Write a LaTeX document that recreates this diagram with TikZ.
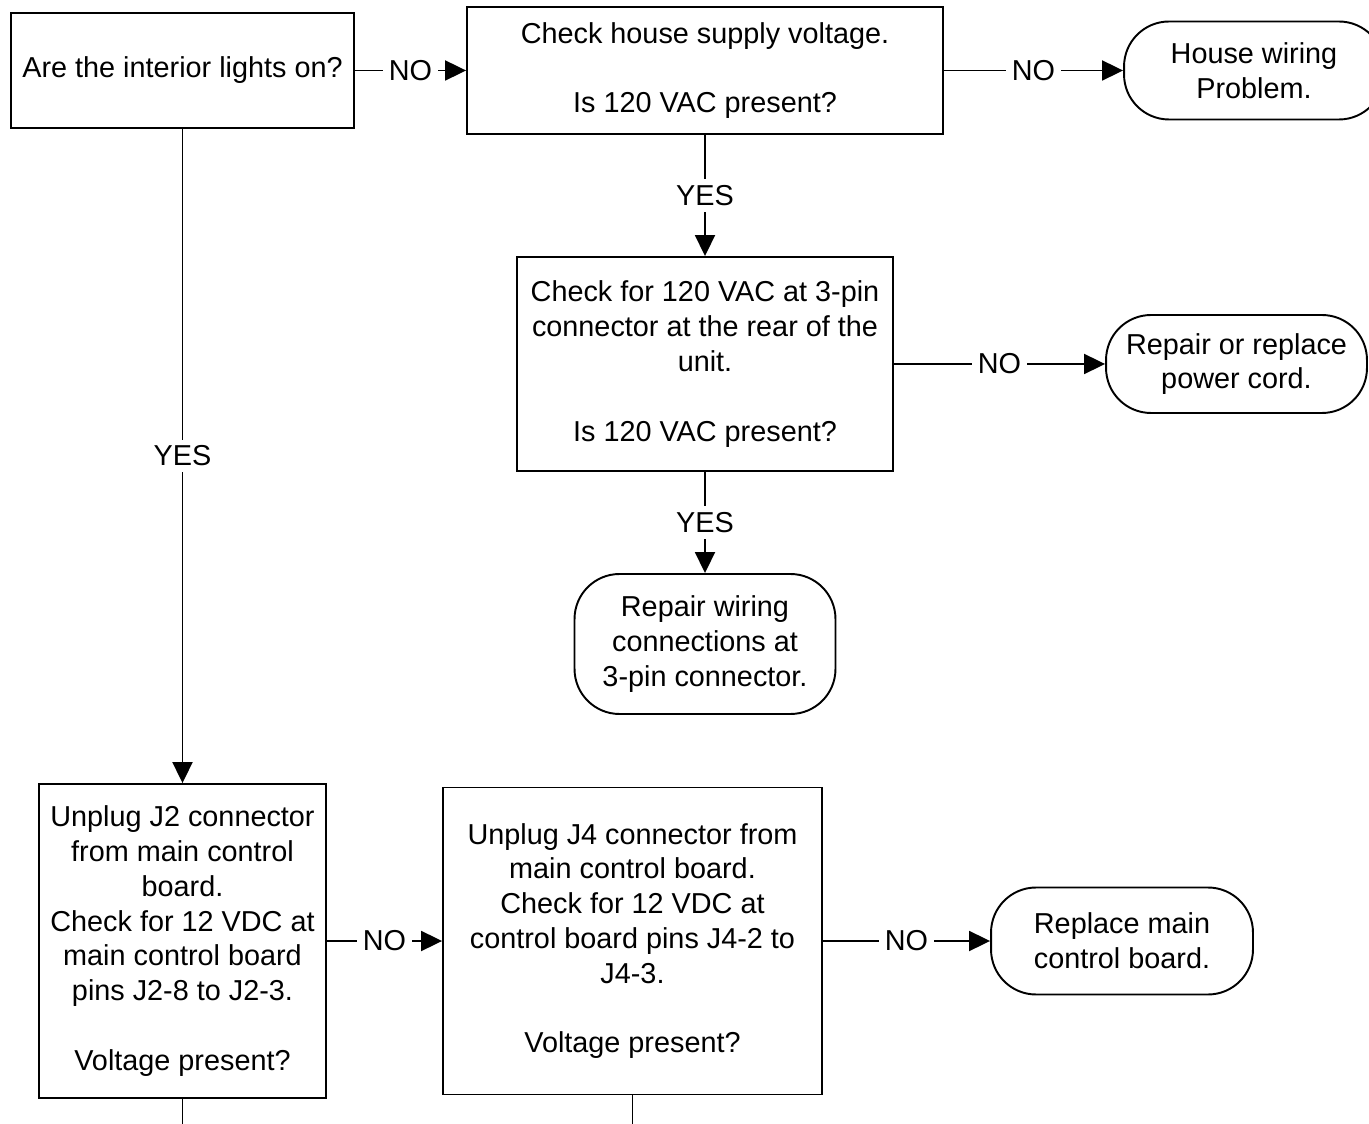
\documentclass[tikz,border=0pt]{standalone}
\usepackage{fontspec}
\setmainfont{Liberation Sans}
\tikzstyle{every node}+=[font=\fontsize{16.4}{19.8}\selectfont,align=center,inner sep=0mm]
\tikzstyle{every path}+=[line width=1.1pt]
\usetikzlibrary{arrows.meta}
\tikzstyle{check}=[draw,rectangle]
\tikzstyle{finish}=[draw,rounded corners=0.9cm]
\tikzstyle{flow}=[-{Triangle[length=0.42cm,width=0.4cm]}]
\tikzstyle{answer}=[inner sep=1.2mm]
\newcommand{\drawanswers}[2][]{
	\foreach \a/\b/\t in {#2}{
		\draw[flow,#1] (\a) -- node[answer] {\t} (\b);
	}
}

\begin{document}
\begin{tikzpicture}[x=0.02cm,y=-0.02cm]
	\tikzstyle{every node}+=[fill=white]
	\useasboundingbox (0,0) rectangle (1369,1124);
	% top row
	\node[check,minimum width=6.86cm,minimum height=2.3cm] (lights) at (182.5,70.5) {Are the interior lights on?};
	\node[check,minimum width=9.52cm,minimum height=2.54cm] (house) at (705,70.5) {Check house supply voltage.\\ ~\\ Is 120 VAC present?};
	\node[finish,minimum width=5.2cm,minimum height=1.96cm] (wiring) at (1254,70.5) {House wiring\\ Problem.};
	% middle
	\node[check,minimum width=7.52cm,minimum height=4.28cm] (plug) at (705,364) {Check for 120 VAC at 3-pin\\ connector at the rear of the\\ unit.\\ ~\\ Is 120 VAC present?};
	\node[finish,minimum width=5.22cm,minimum height=1.96cm] (cord) at (1236.5,364) {Repair or replace\\ power cord.};
	\node[finish,minimum width=5.22cm,minimum height=2.8cm] (repair) at (705,644) {Repair wiring\\ connections at\\ 3-pin connector.};
	% bottom row
	\node[check,minimum width=5.74cm,minimum height=6.28cm] (j2) at (182.5,941) {Unplug J2 connector\\ from main control\\ board.\\ Check for 12 VDC at\\ main control board\\ pins J2-8 to J2-3.\\ ~\\ Voltage present?};
	\node[check,minimum width=7.58cm,minimum height=6.14cm] (j4) at (632.5,941) {Unplug J4 connector from\\ main control board.\\ Check for 12 VDC at\\ control board pins J4-2 to\\ J4-3.\\ ~\\ Voltage present?};
	\node[finish,minimum width=5.24cm,minimum height=2.14cm] (board) at (1122,941) {Replace main\\ control board.};
	\coordinate (j2out) at (182.5,1124);
	\coordinate (j4out) at (632.5,1124);
	\drawanswers{lights/house/NO,house/wiring/NO,house/plug/YES,plug/cord/NO,plug/repair/YES,lights/j2/YES,j2/j4/NO,j4/board/NO}
	\draw (j2) -- (j2out);
	\draw (j4) -- (j4out);
\end{tikzpicture}
\end{document}
